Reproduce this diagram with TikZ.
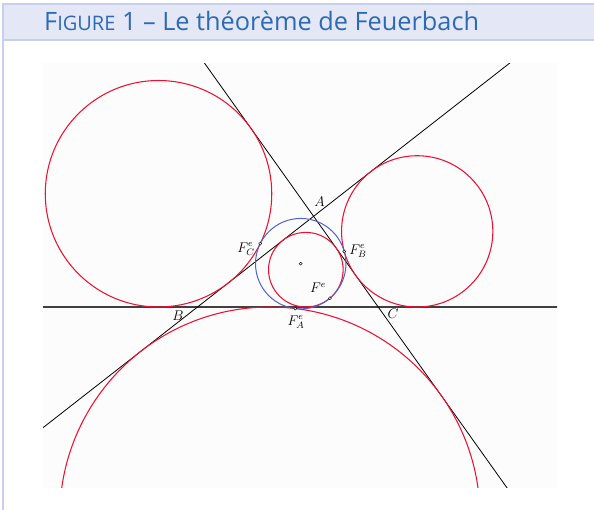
\documentclass[tikz,border=0pt]{standalone}
\usepackage{fontspec}
\newfontfamily\headfont{Open Sans}
\usetikzlibrary{calc}
\definecolor{bandfill}{HTML}{E4E7F5}
\definecolor{bandline}{HTML}{C7CFEA}
\definecolor{headblue}{HTML}{2C6BB3}
\definecolor{circred}{HTML}{EE1030}
\definecolor{ninepblue}{HTML}{4E62D2}
\newcommand{\lblmath}[1]{\scalebox{1.17}{$#1$}}
\begin{document}
\begin{tikzpicture}[x=1pt,y=-1pt,
  sideline/.style={black,line width=0.8pt},
  baseline/.style={black!75,line width=1.6pt},
  redcirc/.style={circred,line width=1.05pt},
  bluecirc/.style={ninepblue,line width=1.0pt},
  ptdot/.style={draw=black,fill=white,line width=0.45pt},
  lbl/.style={inner sep=0pt,font=\fontsize{12}{14}\selectfont}]
\useasboundingbox (0,0) rectangle (594,510);
% frame and header
\fill[bandfill] (3,4) rectangle (594,40);
\draw[bandline,line width=1.5pt] (594,4) -- (3,4) -- (3,510);
\draw[bandline,line width=1.5pt] (3,40) -- (594,40);
\node[anchor=base west,inner sep=0pt,text=headblue] (title) at (44,31)
  {\headfont\fontsize{25.3}{26}\selectfont F{\fontsize{20}{20}\selectfont IGURE} 1 – Le théorème de Feuerbach};
% picture area
\fill[black!1.2] (43,63.5) rectangle (557,487.5);
% triangle vertices
\coordinate (A) at (313.6,216.3);
\coordinate (B) at (197.5,307);
\coordinate (C) at (378.2,307);
% incentre, excentres, nine-point centre
\coordinate (I) at (305.84,269.70);
\coordinate (Ia) at (269.86,517.17);
\coordinate (Ib) at (417.19,231.36);
\coordinate (Ic) at (158.51,193.75);
\coordinate (N) at (300.73,263.67);
% Feuerbach points
\coordinate (F) at ($(N)!45.22pt!(I)$);
\coordinate (FA) at ($(N)!45.22pt!(Ia)$);
\coordinate (FB) at ($(N)!45.22pt!(Ib)$);
\coordinate (FC) at ($(N)!45.22pt!(Ic)$);
\begin{scope}
\clip (43,63.5) rectangle (557,487.5);
\draw[baseline] ($(B)!-5!(C)$) -- ($(B)!6!(C)$);
\draw[sideline] ($(A)!-5!(B)$) -- ($(A)!5!(B)$);
\draw[sideline] ($(A)!-5!(C)$) -- ($(A)!5!(C)$);
\draw[redcirc] (I) circle[radius=37.30pt];
\draw[redcirc] (Ia) circle[radius=210.17pt];
\draw[redcirc] (Ib) circle[radius=75.64pt];
\draw[redcirc] (Ic) circle[radius=113.25pt];
\draw[bluecirc] (N) circle[radius=45.22pt];
\end{scope}
% points
\foreach \p in {N,F,FA,FB,FC} \draw[ptdot] (\p) circle[radius=1.5pt];
% labels
\node[lbl] (lA) at (319.5,202) {\lblmath{A}};
\node[lbl] (lB) at (178,316) {\lblmath{B}};
\node[lbl] (lC) at (393,314) {\lblmath{C}};
\node[lbl] (lFC) at (246,249) {\lblmath{F_C^e}};
\node[lbl] (lFB) at (358,251) {\lblmath{F_B^e}};
\node[lbl] (lF) at (318,288) {\lblmath{F^e}};
\node[lbl] (lFA) at (296,322) {\lblmath{F_A^e}};
\end{tikzpicture}
\end{document}
